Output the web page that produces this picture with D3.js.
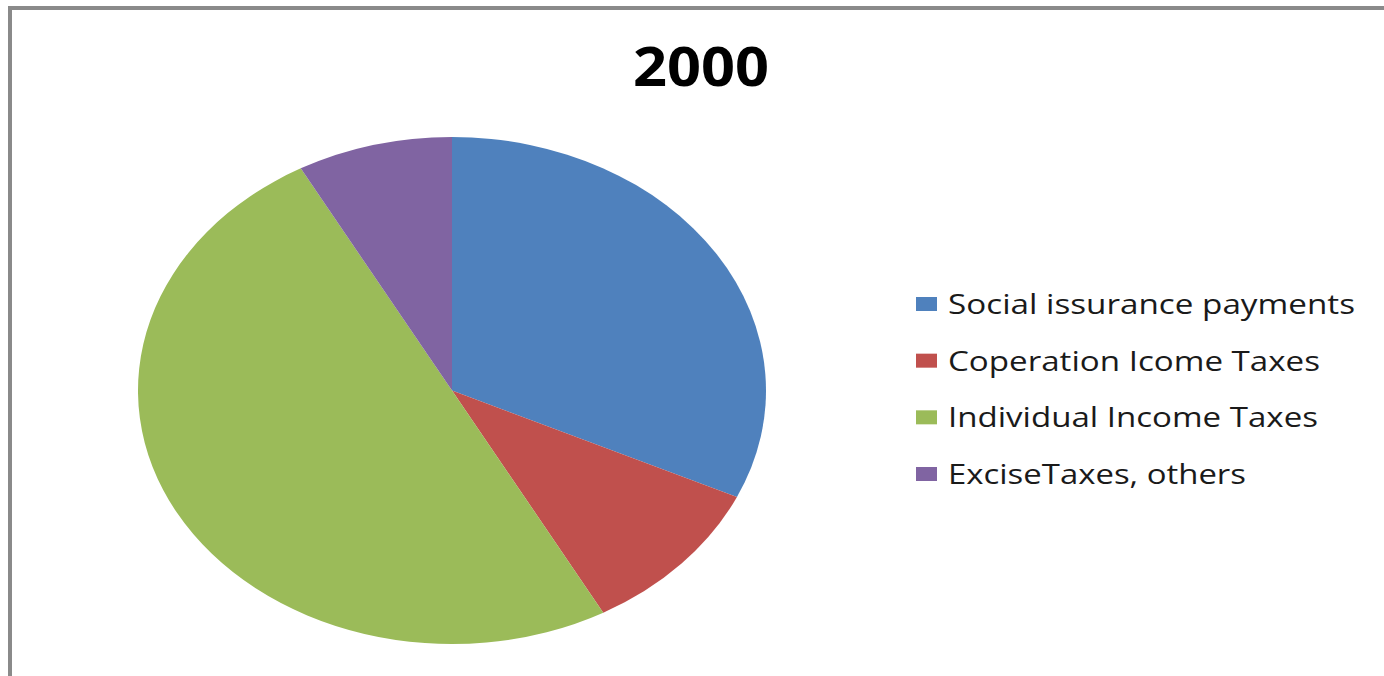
<!DOCTYPE html>
<html>
<head>
<meta charset="utf-8">
<script src="https://cdn.jsdelivr.net/npm/d3@7"></script>
<style>
  html, body { margin: 0; padding: 0; background: #fff; }
  svg { display: block; }
</style>
</head>
<body>
<svg id="chart" width="1384" height="676"></svg>
<script>
const title = "2000";
const categories = ["Social issurance payments", "Coperation Icome Taxes", "Individual Income Taxes", "ExciseTaxes, others"];
const values = [31.9, 10.1, 50.0, 8.0];
const colors = ["#4F81BD", "#C0504D", "#9BBB59", "#8064A2"];
const legendWidths = [407, 372, 370, 298];

const svg = d3.select("#chart");

// chart frame
svg.append("rect")
  .attr("x", 10).attr("y", 8)
  .attr("width", 1400).attr("height", 700)
  .attr("fill", "#fff")
  .attr("stroke", "#8a8a8a")
  .attr("stroke-width", 4);

// title
svg.append("text")
  .attr("x", 701).attr("y", 86)
  .attr("text-anchor", "middle")
  .attr("font-family", "'Open Sans', 'DejaVu Sans', sans-serif")
  .attr("font-weight", "bold")
  .attr("font-size", 54)
  .attr("textLength", 136)
  .attr("lengthAdjust", "spacingAndGlyphs")
  .attr("fill", "#000")
  .text(title);

// pie (drawn as circle then stretched horizontally into an ellipse)
const cx = 452, cy = 390.5, rx = 314, ry = 253.5;
const color = d3.scaleOrdinal().domain(categories).range(colors);
const pie = d3.pie().sort(null).value(d => d.value);
const arc = d3.arc().innerRadius(0).outerRadius(ry);
const data = categories.map((c, i) => ({ name: c, value: values[i] }));

const g = svg.append("g")
  .attr("transform", `translate(${cx},${cy}) scale(${rx / ry},1)`);
g.selectAll("path")
  .data(pie(data))
  .join("path")
  .attr("d", arc)
  .attr("fill", d => color(d.data.name));

// legend
const legendY = d3.scalePoint().domain(categories).range([304, 474]);
const lg = svg.append("g");
const items = lg.selectAll("g")
  .data(categories)
  .join("g")
  .attr("transform", d => `translate(916,${legendY(d)})`);
items.append("rect")
  .attr("x", 0).attr("y", -7)
  .attr("width", 21).attr("height", 14)
  .attr("fill", d => color(d));
items.append("text")
  .attr("x", 32).attr("y", 10)
  .attr("font-family", "'Open Sans', 'DejaVu Sans', sans-serif")
  .attr("font-size", 27)
  .attr("fill", "#1a1a1a")
  .attr("textLength", (d, i) => legendWidths[i])
  .attr("lengthAdjust", "spacingAndGlyphs")
  .text(d => d);
</script>
</body>
</html>
